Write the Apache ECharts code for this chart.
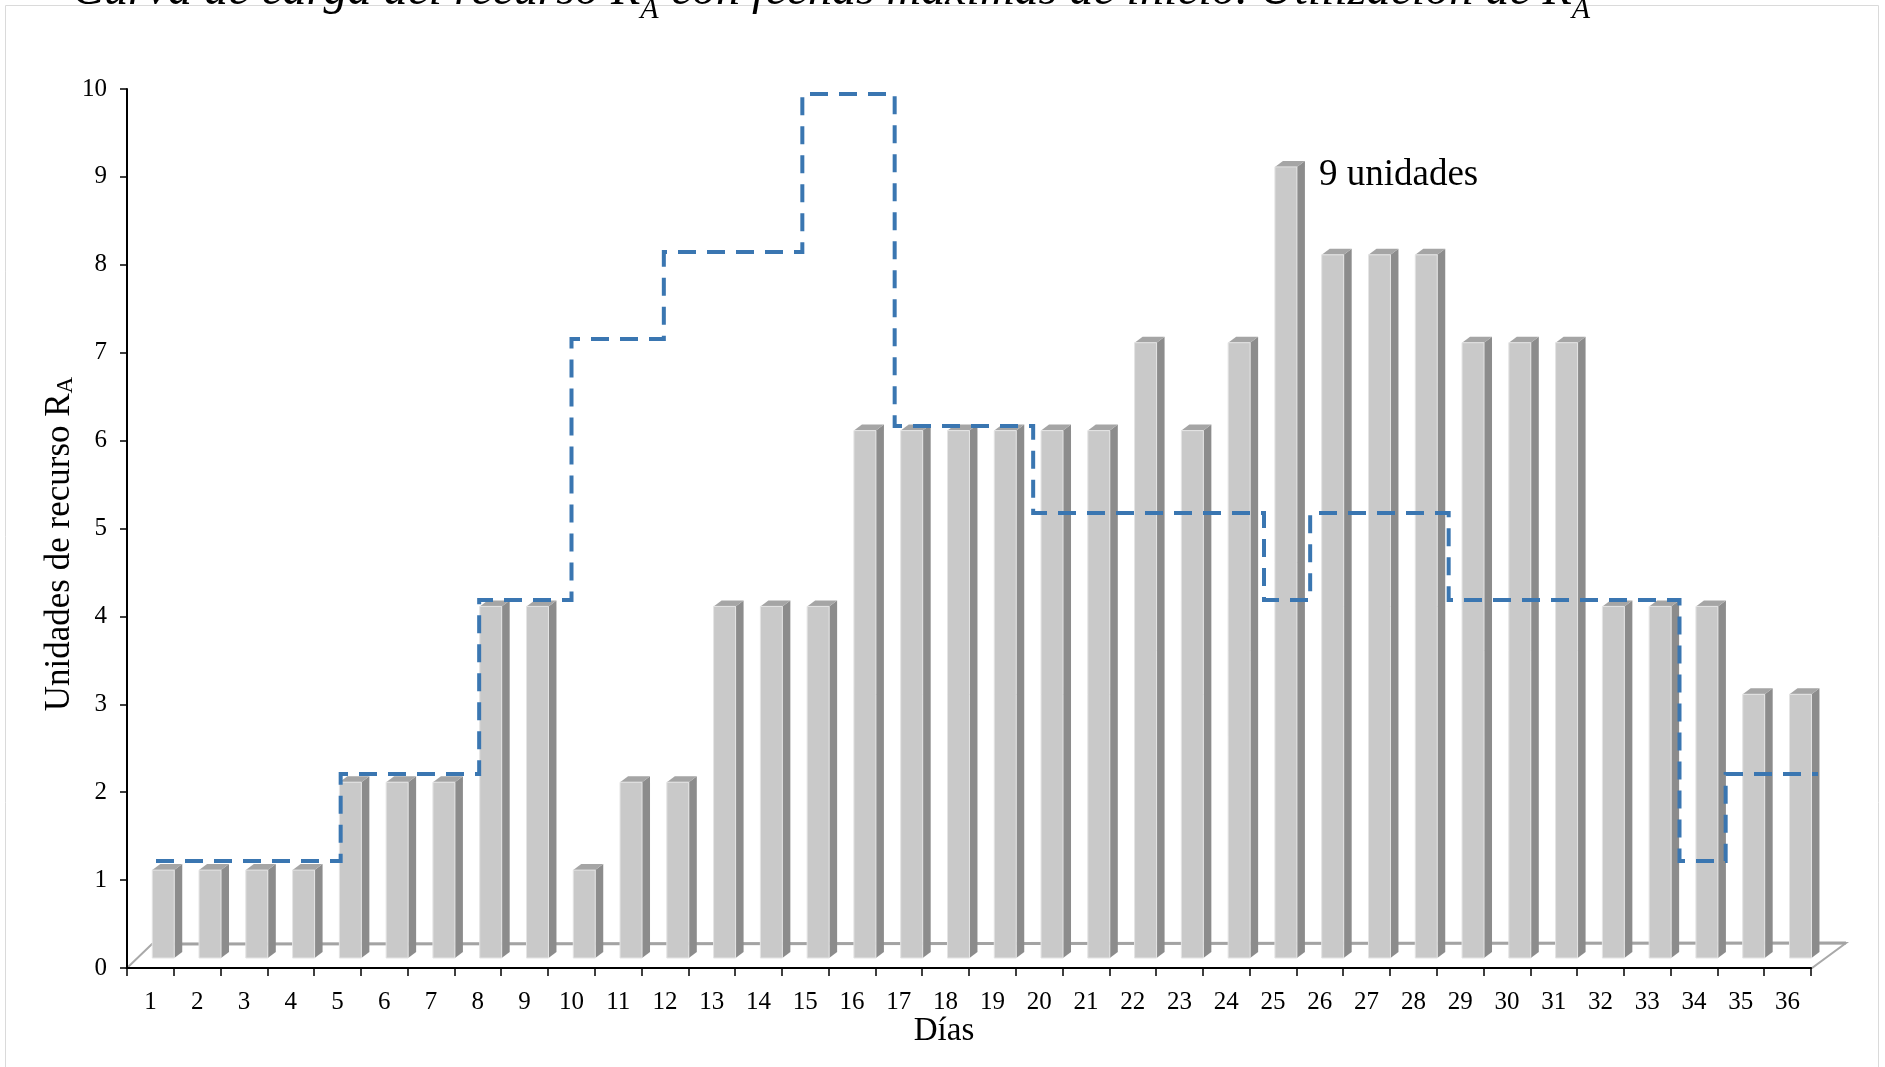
<!DOCTYPE html>
<html>
<head>
<meta charset="utf-8">
<script src="https://cdn.jsdelivr.net/npm/echarts@6/dist/echarts.min.js"></script>
<style>
html,body{margin:0;padding:0;background:#ffffff;}
#chart{width:1885px;height:1067px;}
</style>
</head>
<body>
<div id="chart"></div>
<script>
// ---------------- data ----------------
const days = ['1','2','3','4','5','6','7','8','9','10','11','12','13','14','15','16','17','18',
              '19','20','21','22','23','24','25','26','27','28','29','30','31','32','33','34','35','36'];
// resource units used per day (bars)
const usage = [1,1,1,1,2,2,2,4,4,1,2,2,4,4,4,6,6,6,6,6,6,7,6,7,9,8,8,8,7,7,7,4,4,4,3,3];
// load curve with latest start dates (dashed step line)
const latestStartLoad = [1,1,1,1,2,2,2,4,4,7,7,8,8,8,10,10,6,6,6,5,5,5,5,5,4,5,5,5,4,4,4,4,4,1,2,2];
const valueMin = 0;
const valueMax = 10;
const valueStep = 1;
const titleParts = ['Curva de carga del recurso R', 'A', ' con fechas máximas de inicio. Utilización de R', 'A'];
const yTitleParts = ['Unidades de recurso R', 'A'];
const xTitle = 'Días';
const peakNote = '9 unidades';

// ---------------- layout ----------------
const FONT = '"Liberation Serif", "Times New Roman", serif';
const FRONT = {left: 127, top: 89, width: 1684, height: 879};
const BACK = {left: 156, top: 78, width: 1662, height: 870};
const BAR = {frontStart: 0.04, frontEnd: 0.51, lift: 10, depthX: 8, depthY: 6};
const FLOOR = {backLeftDx: 25, backRightDx: 34, depthY: 24};
const LINE_CAP_Y = 94;

const chart = echarts.init(document.getElementById('chart'));

function renderBar(params, api) {
  const cat = api.value(0);
  const v = api.value(1);
  const top = api.coord([cat, v]);
  const base = api.coord([cat, 0]);
  const bw = api.size([1, 0])[0];
  const x0 = top[0] + BAR.frontStart * bw;
  const x1 = top[0] + BAR.frontEnd * bw;
  const yT = top[1] - BAR.lift;
  const yB = base[1] - BAR.lift;
  const dx = BAR.depthX, dy = BAR.depthY;
  return {
    type: 'group',
    children: [
      {type: 'polygon', shape: {points: [[x1, yB], [x1 + dx, yB - dy], [x1 + dx, yT - dy], [x1, yT]]},
       style: {fill: '#8c8c8c'}},
      {type: 'polygon', shape: {points: [[x0, yT], [x1, yT], [x1 + dx, yT - dy], [x0 + dx, yT - dy]]},
       style: {fill: '#a5a5a5'}},
      {type: 'rect', shape: {x: x0, y: yT, width: x1 - x0, height: yB - yT},
       style: {fill: '#c9c9c9', stroke: '#e4e4e4', lineWidth: 1}}
    ]
  };
}

function renderStep(params, api) {
  if (params.dataIndex !== 0) return null;
  const pts = [];
  for (let i = 0; i < latestStartLoad.length; i++) {
    const v = latestStartLoad[i];
    const a = api.coord([i, v]);
    const b = api.coord([i + 1, v]);
    pts.push([a[0], Math.max(a[1], LINE_CAP_Y)]);
    pts.push([b[0], Math.max(b[1], LINE_CAP_Y)]);
  }
  return {
    type: 'polyline',
    shape: {points: pts},
    style: {stroke: '#3a76b1', lineWidth: 4, lineDash: [18, 11], fill: 'none', lineCap: 'butt', lineJoin: 'miter'}
  };
}

const fy = FRONT.top + FRONT.height;
const fx0 = FRONT.left, fx1 = FRONT.left + FRONT.width + 1;

const option = {
  backgroundColor: '#ffffff',
  animation: false,
  grid: [
    {left: FRONT.left, top: FRONT.top, width: FRONT.width, height: FRONT.height},
    {left: BACK.left, top: BACK.top, width: BACK.width, height: BACK.height}
  ],
  xAxis: [
    {
      gridIndex: 0, type: 'category', data: days, boundaryGap: true,
      axisLine: {lineStyle: {color: '#000000', width: 2}},
      axisTick: {show: true, length: 8, lineStyle: {color: '#000000', width: 1.5}},
      axisLabel: {fontFamily: FONT, fontSize: 25, color: '#000000', margin: 22, interval: 0},
      splitLine: {show: false}
    },
    {gridIndex: 1, type: 'value', min: 0, max: days.length, show: false}
  ],
  yAxis: [
    {
      gridIndex: 0, type: 'value', min: valueMin, max: valueMax, interval: valueStep,
      axisLine: {show: true, lineStyle: {color: '#000000', width: 2}},
      axisTick: {show: true, length: 7, lineStyle: {color: '#000000', width: 1.5}},
      axisLabel: {fontFamily: FONT, fontSize: 25, color: '#000000', margin: 20},
      splitLine: {show: false}
    },
    {gridIndex: 1, type: 'value', min: valueMin, max: valueMax, show: false}
  ],
  graphic: [
    {type: 'rect', z: -10, silent: true,
     shape: {x: 5.5, y: 5.5, width: 1873, height: 1075},
     style: {fill: 'none', stroke: '#dadada', lineWidth: 1}},
    {type: 'polygon', z: 0, silent: true,
     shape: {points: [[fx0, fy], [fx1, fy], [fx1 + FLOOR.backRightDx, fy - FLOOR.depthY - 1], [fx0 + FLOOR.backLeftDx, fy - FLOOR.depthY]]},
     style: {fill: '#ffffff', stroke: '#a9a9a9', lineWidth: 2}},
    {type: 'line', z: 0, silent: true,
     shape: {x1: fx0 + FLOOR.backLeftDx, y1: fy - FLOOR.depthY, x2: fx1 + FLOOR.backRightDx, y2: fy - FLOOR.depthY - 1},
     style: {stroke: '#a3a3a3', lineWidth: 3}},
    {type: 'text', z: 50, x: 72, y: -33,
     style: {
       text: '{t|' + titleParts[0] + '}{s|' + titleParts[1] + '}{t|' + titleParts[2] + '}{s|' + titleParts[3] + '}',
       verticalAlign: 'top', align: 'left',
       rich: {
         t: {fontFamily: FONT, fontStyle: 'italic', fontSize: 48, color: '#3a6fa9', verticalAlign: 'top', lineHeight: 48},
         s: {fontFamily: FONT, fontStyle: 'italic', fontSize: 30, color: '#3a6fa9', verticalAlign: 'bottom', height: 10, lineHeight: 10}
       }
     }},
    {type: 'text', z: 50, x: 60, y: 544, rotation: Math.PI / 2,
     style: {
       text: '{t|' + yTitleParts[0] + '}{s|' + yTitleParts[1] + '}',
       align: 'center', verticalAlign: 'middle',
       rich: {
         t: {fontFamily: FONT, fontSize: 35, color: '#000000', verticalAlign: 'top', lineHeight: 35},
         s: {fontFamily: FONT, fontSize: 23, color: '#000000', verticalAlign: 'bottom', lineHeight: 23}
       }
     }},
    {type: 'text', z: 50, x: 944, y: 1031,
     style: {text: xTitle, fontFamily: FONT, fontSize: 33, fill: '#000000', align: 'center', verticalAlign: 'middle'}},
    {type: 'text', z: 50, x: 1319, y: 175,
     style: {text: peakNote, fontFamily: FONT, fontSize: 37, fill: '#000000', align: 'left', verticalAlign: 'middle'}}
  ],
  series: [
    {
      type: 'custom', name: 'Utilización', xAxisIndex: 0, yAxisIndex: 0, z: 3,
      data: usage.map((v, i) => [i, v]),
      encode: {x: 0, y: 1},
      renderItem: renderBar
    },
    {
      type: 'custom', name: 'Fechas máximas', xAxisIndex: 1, yAxisIndex: 1, z: 5,
      data: latestStartLoad.map((v, i) => [i, v]),
      encode: {x: 0, y: 1},
      renderItem: renderStep
    }
  ]
};
chart.setOption(option);
</script>
</body>
</html>
